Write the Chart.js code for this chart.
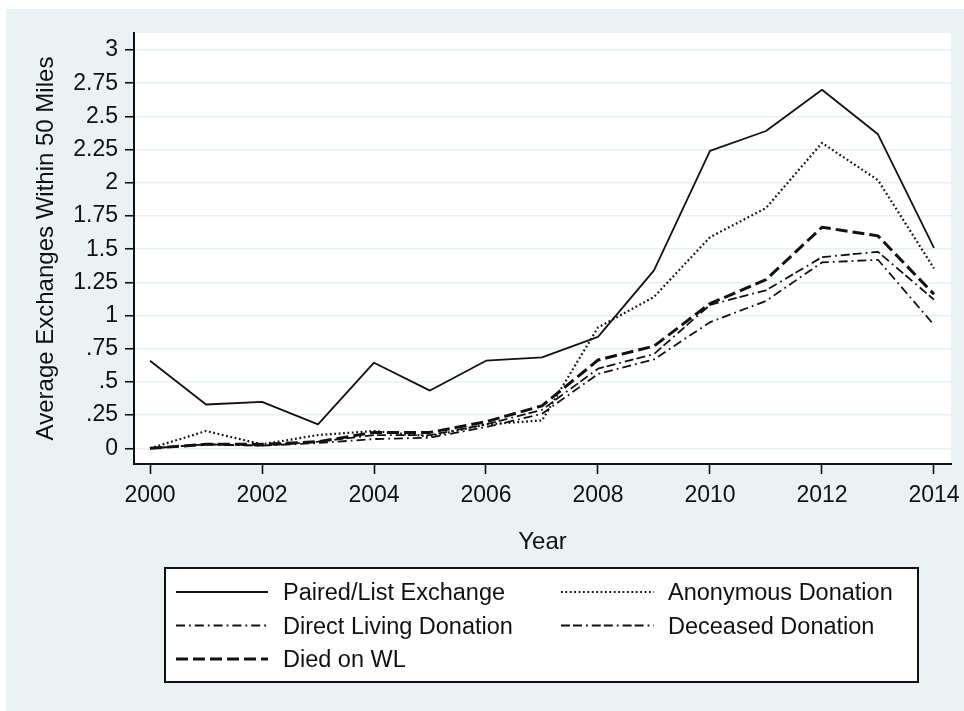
<!DOCTYPE html>
<html>
<head>
<meta charset="utf-8">
<script src="https://cdn.jsdelivr.net/npm/chart.js@4"></script>
<style>
  html, body { margin: 0; padding: 0; background: #ffffff; }
  canvas { display: block; }
</style>
</head>
<body>
<canvas id="c" width="964" height="711"></canvas>
<script>
// Average exchanges within 50 miles, by year and donation type
const years = [2000, 2001, 2002, 2003, 2004, 2005, 2006, 2007, 2008, 2009, 2010, 2011, 2012, 2013, 2014];
const pairedList = [0.66, 0.33, 0.35, 0.18, 0.645, 0.435, 0.66, 0.685, 0.84, 1.34, 2.24, 2.39, 2.70, 2.365, 1.51];
const anonymous  = [0.00, 0.13, 0.03, 0.10, 0.13, 0.09, 0.18, 0.21, 0.91, 1.14, 1.59, 1.81, 2.30, 2.02, 1.355];
const directLiving = [0.00, 0.03, 0.02, 0.04, 0.07, 0.08, 0.16, 0.26, 0.56, 0.67, 0.95, 1.11, 1.40, 1.42, 0.93];
const deceased   = [0.00, 0.03, 0.02, 0.05, 0.10, 0.10, 0.18, 0.29, 0.60, 0.71, 1.08, 1.19, 1.44, 1.48, 1.12];
const diedOnWL   = [0.00, 0.03, 0.03, 0.05, 0.12, 0.12, 0.20, 0.32, 0.665, 0.77, 1.09, 1.27, 1.665, 1.60, 1.16];

const seriesNames = ['Paired/List Exchange', 'Anonymous Donation', 'Direct Living Donation', 'Deceased Donation', 'Died on WL'];

const xTickValues = [2000, 2002, 2004, 2006, 2008, 2010, 2012, 2014];
const yTickValues = [0, 0.25, 0.5, 0.75, 1, 1.25, 1.5, 1.75, 2, 2.25, 2.5, 2.75, 3];
const yTickLabels = ['0', '.25', '.5', '.75', '1', '1.25', '1.5', '1.75', '2', '2.25', '2.5', '2.75', '3'];

const FONT = "'Liberation Sans', Arial, sans-serif";
const INK = '#111111';
const PANEL = '#EAF2F3';

const toPoints = arr => arr.map((v, i) => ({ x: years[i], y: v }));

const lineStyles = [
  { borderWidth: 1.8, borderDash: [] },
  { borderWidth: 2.2, borderDash: [1.8, 2.6] },
  { borderWidth: 1.8, borderDash: [9, 4, 1.8, 4] },
  { borderWidth: 1.8, borderDash: [9, 3, 9, 4, 1.8, 4] },
  { borderWidth: 3.0, borderDash: [12, 5] }
];

const seriesValues = [pairedList, anonymous, directLiving, deceased, diedOnWL];

const datasets = seriesValues.map((vals, i) => ({
  label: seriesNames[i],
  data: toPoints(vals),
  borderColor: INK,
  backgroundColor: INK,
  borderWidth: lineStyles[i].borderWidth,
  borderDash: lineStyles[i].borderDash,
  borderCapStyle: 'butt',
  borderJoinStyle: 'round',
  pointRadius: 0,
  tension: 0,
  fill: false
}));

// Page panel and white plot region
const backdrop = {
  id: 'backdrop',
  beforeDraw(chart) {
    const { ctx, chartArea: a } = chart;
    ctx.save();
    ctx.fillStyle = '#ffffff';
    ctx.fillRect(0, 0, chart.width, chart.height);
    ctx.fillStyle = PANEL;
    ctx.fillRect(6, 9, chart.width - 6, chart.height - 9);
    ctx.fillStyle = '#ffffff';
    ctx.fillRect(a.left, a.top, a.right - a.left, a.bottom - a.top);
    ctx.restore();
  }
};

// Boxed two-column key below the axis
const keyBox = {
  id: 'keyBox',
  afterDraw(chart) {
    const { ctx } = chart;
    const box = { x: 165, y: 568, w: 753, h: 114 };
    const rowY = [592, 625.5, 659];
    const sampleX = [[176, 268], [561, 654]];
    const textX = [283, 668];
    ctx.save();
    ctx.fillStyle = '#ffffff';
    ctx.fillRect(box.x, box.y, box.w, box.h);
    ctx.strokeStyle = INK;
    ctx.lineWidth = 2;
    ctx.strokeRect(box.x, box.y, box.w, box.h);
    chart.data.datasets.forEach((ds, i) => {
      const row = Math.floor(i / 2), col = i % 2;
      const y = rowY[row];
      ctx.beginPath();
      ctx.setLineDash(ds.borderDash || []);
      ctx.lineWidth = ds.borderWidth;
      ctx.lineCap = 'butt';
      ctx.strokeStyle = ds.borderColor;
      ctx.moveTo(sampleX[col][0], y);
      ctx.lineTo(sampleX[col][1], y);
      ctx.stroke();
      ctx.setLineDash([]);
      ctx.fillStyle = INK;
      ctx.font = '23.5px ' + FONT;
      ctx.textBaseline = 'middle';
      ctx.textAlign = 'left';
      ctx.fillText(ds.label, textX[col], y + 2);
    });
    ctx.restore();
  }
};

new Chart(document.getElementById('c'), {
  type: 'line',
  data: { datasets },
  plugins: [backdrop, keyBox],
  options: {
    responsive: false,
    animation: false,
    devicePixelRatio: 1,
    layout: { padding: { left: 0, top: 33, right: 13, bottom: 0 } },
    plugins: {
      legend: { display: false },
      tooltip: { enabled: false }
    },
    scales: {
      x: {
        type: 'linear',
        min: 1999.714,
        max: 2014.304,
        afterBuildTicks(scale) { scale.ticks = xTickValues.map(v => ({ value: v })); },
        afterFit(scale) {
          scale.height = 247;
          scale.paddingLeft = 0;
          scale.paddingRight = 0;
        },
        ticks: {
          color: INK,
          font: { family: FONT, size: 23 },
          padding: 8,
          maxRotation: 0,
          autoSkip: false,
          callback: v => String(v)
        },
        grid: {
          drawOnChartArea: false,
          drawTicks: true,
          tickLength: 10,
          tickColor: INK,
          tickWidth: 1.6
        },
        border: { display: true, color: INK, width: 2 },
        title: {
          display: true,
          text: 'Year',
          color: INK,
          font: { family: FONT, size: 24 },
          padding: { top: 0, bottom: 154.6 }
        }
      },
      y: {
        type: 'linear',
        min: -0.118,
        max: 3.128,
        afterBuildTicks(scale) { scale.ticks = yTickValues.map(v => ({ value: v })); },
        afterFit(scale) {
          scale.width = 134;
          scale.paddingTop = 0;
          scale.paddingBottom = 0;
        },
        ticks: {
          color: INK,
          font: { family: FONT, size: 23 },
          padding: 7,
          autoSkip: false,
          callback: v => {
            const k = yTickValues.indexOf(v);
            return k >= 0 ? yTickLabels[k] : '';
          }
        },
        grid: {
          color: '#E6EFF1',
          lineWidth: 1.5,
          drawTicks: true,
          tickLength: 9,
          tickColor: INK,
          tickWidth: 1.6
        },
        border: { display: true, color: INK, width: 2 },
        title: {
          display: true,
          text: 'Average Exchanges Within 50 Miles',
          color: INK,
          font: { family: FONT, size: 24 },
          padding: { top: 31.6, bottom: 0 }
        }
      }
    }
  }
});
</script>
</body>
</html>
